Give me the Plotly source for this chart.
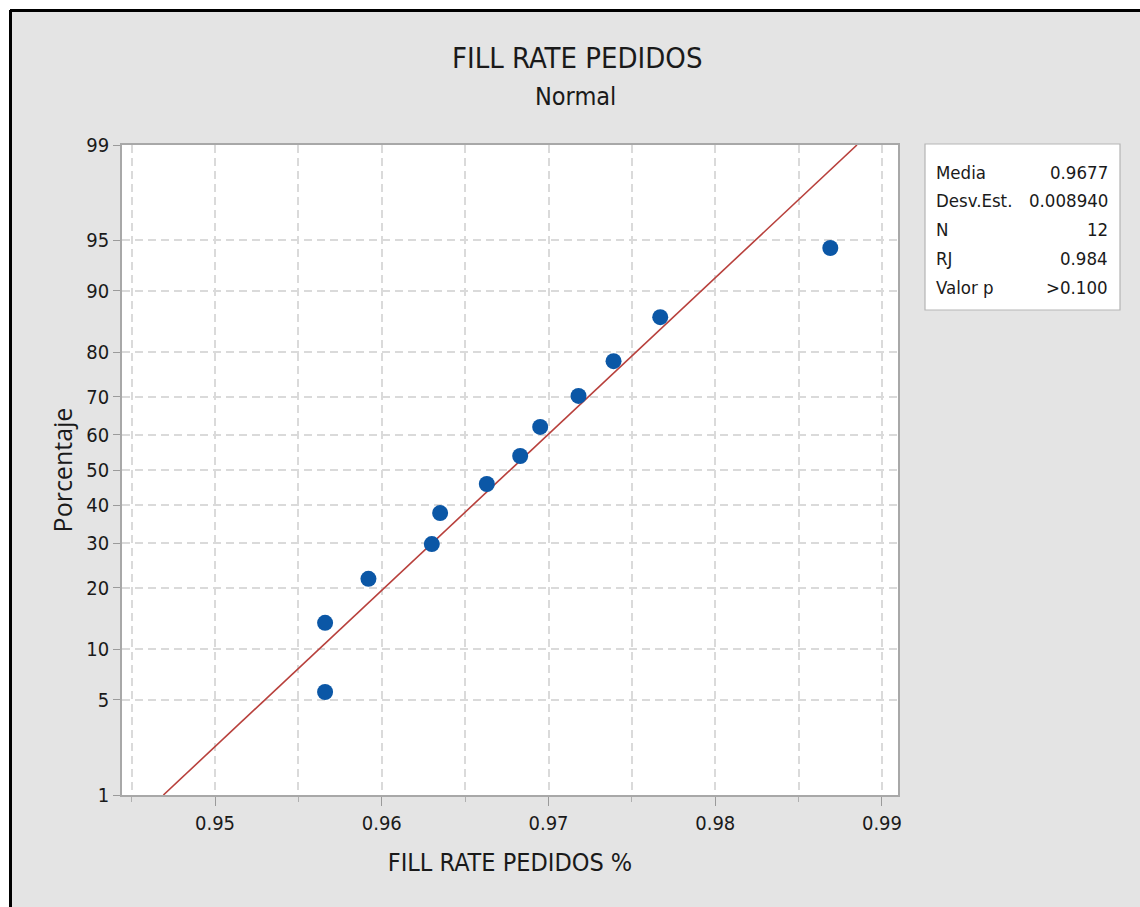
import plotly.graph_objects as go
from statistics import NormalDist

# ---- data ----
fill_rate = [0.9566, 0.9566, 0.9592, 0.9630, 0.9635, 0.9663,
             0.9683, 0.9695, 0.9718, 0.9739, 0.9767, 0.9869]
percent = [5.6, 13.7, 21.8, 29.8, 37.9, 46.0, 54.0, 62.1, 70.2, 78.2, 86.3, 94.4]
media = 0.9677
desv_est = 0.008940
y_tick_pct = [1, 5, 10, 20, 30, 40, 50, 60, 70, 80, 90, 95, 99]
x_tick_vals = [0.95, 0.96, 0.97, 0.98, 0.99]
stat_labels = ["Media", "Desv.Est.", "N", "RJ", "Valor p"]
stat_values = ["0.9677", "0.008940", "12", "0.984", ">0.100"]

nd = NormalDist()
def zq(p):
    return nd.inv_cdf(p / 100.0)

W, H = 1140, 907
L, R, T, B = 122, 898, 145, 795
def px(x):
    return (x - L) / (R - L)
def py(y):
    return (B - y) / (B - T)

NARROW = "DejaVu Sans Condensed, Liberation Sans Narrow, Roboto Condensed, Liberation Sans, sans-serif"
TXT = "#1a1a1a"

fig = go.Figure()

# fitted normal line (from mean and std dev)
line_pct = [y_tick_pct[0], y_tick_pct[-1]]
fig.add_trace(go.Scatter(
    x=[media + desv_est * zq(p) for p in line_pct],
    y=[zq(p) for p in line_pct],
    mode="lines", line=dict(color="#b8403c", width=1.6),
    hoverinfo="skip", showlegend=False))

fig.add_trace(go.Scatter(
    x=fill_rate, y=[zq(p) for p in percent],
    mode="markers", marker=dict(color="#0b57a6", size=16, line=dict(width=0)),
    showlegend=False))

grid = "#dadada"
fig.update_xaxes(
    range=[0.94442, 0.99096], tickvals=x_tick_vals,
    ticktext=[f"{v:.2f}" for v in x_tick_vals],
    ticks="outside", ticklen=9, tickcolor="#9a9a9a", tickwidth=1,
    showgrid=True, gridcolor=grid, griddash="8px,5px", gridwidth=1.5,
    minor=dict(dtick=0.005, tick0=0.945, ticks="outside", ticklen=5,
               tickcolor="#b0b0b0", showgrid=True, gridcolor=grid,
               griddash="8px,5px", gridwidth=1.5),
    showline=True, linecolor="#a8a8a8", linewidth=1.5, mirror=True,
    zeroline=False,
    tickfont=dict(family=NARROW, size=20, color=TXT),
    title=dict(text="FILL RATE PEDIDOS %", font=dict(family=NARROW, size=25, color=TXT),
               standoff=20),
)
fig.update_yaxes(
    range=[zq(1), zq(99)], tickvals=[zq(p) for p in y_tick_pct],
    ticktext=[str(p) for p in y_tick_pct],
    ticks="outside", ticklen=7, tickcolor="#9a9a9a", tickwidth=1,
    showgrid=True, gridcolor=grid, griddash="8px,5px", gridwidth=1.5,
    showline=True, linecolor="#a8a8a8", linewidth=1.5, mirror=True,
    zeroline=False,
    tickfont=dict(family=NARROW, size=20, color=TXT),
    title=dict(text="Porcentaje", font=dict(family="Open Sans, sans-serif", size=25, color=TXT),
               standoff=7),
)

shapes = [
    dict(type="rect", xref="paper", yref="paper", x0=px(-5), x1=px(10), y0=py(H + 5), y1=py(-5),
         fillcolor="white", line=dict(width=0), layer="below"),
    dict(type="rect", xref="paper", yref="paper", x0=px(-5), x1=px(W + 5), y0=py(10), y1=py(-5),
         fillcolor="white", line=dict(width=0), layer="below"),
    dict(type="line", xref="paper", yref="paper", x0=px(10), x1=px(W + 5), y0=py(10.5), y1=py(10.5),
         line=dict(color="black", width=3)),
    dict(type="line", xref="paper", yref="paper", x0=px(10.5), x1=px(10.5), y0=py(10), y1=py(H + 5),
         line=dict(color="black", width=3)),
    dict(type="rect", xref="paper", yref="paper", x0=px(925), x1=px(1120), y0=py(310), y1=py(144),
         fillcolor="white", line=dict(color="#b5b5b5", width=1.2)),
]

annotations = [
    dict(text="FILL RATE PEDIDOS", x=px(577), y=py(58), xref="paper", yref="paper",
         showarrow=False, font=dict(family=NARROW, size=29, color=TXT), xanchor="center", yanchor="middle"),
    dict(text="Normal", x=px(575), y=py(96), xref="paper", yref="paper",
         showarrow=False, font=dict(family=NARROW, size=25, color=TXT), xanchor="center", yanchor="middle"),
]
row_y = [172, 200, 229, 258, 287]
for lab, val, yy in zip(stat_labels, stat_values, row_y):
    annotations.append(dict(text=lab, x=px(934), y=py(yy), xref="paper", yref="paper",
                            showarrow=False, xanchor="left", yanchor="middle",
                            font=dict(family=NARROW, size=18.5, color=TXT)))
    annotations.append(dict(text=val, x=px(1110), y=py(yy), xref="paper", yref="paper",
                            showarrow=False, xanchor="right", yanchor="middle",
                            font=dict(family=NARROW, size=18.5, color=TXT)))

fig.update_layout(
    width=W, height=H,
    margin=dict(l=L, r=W - R, t=T, b=H - B),
    paper_bgcolor="#e4e4e4", plot_bgcolor="white",
    shapes=shapes, annotations=annotations,
    showlegend=False,
)

fig.write_html("out.html")
